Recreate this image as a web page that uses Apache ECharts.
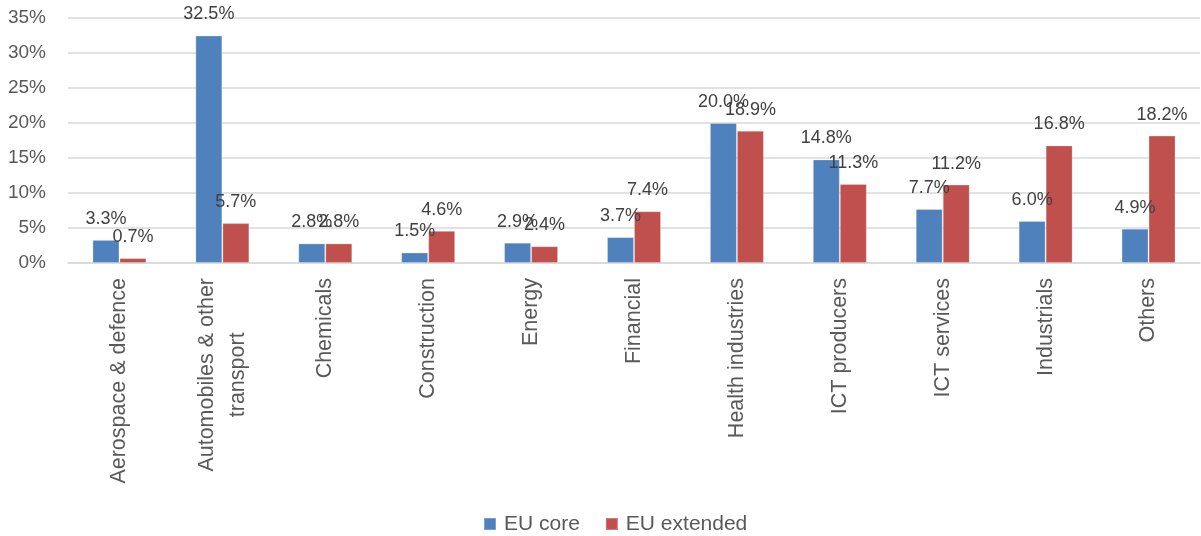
<!DOCTYPE html>
<html>
<head>
<meta charset="utf-8">
<script src="https://cdn.jsdelivr.net/npm/echarts@6/dist/echarts.min.js"></script>
<style>html,body{margin:0;padding:0;background:#fff;}#c{width:1201px;height:536px;}</style>
</head>
<body>
<div id="c"></div>
<script>
const categories = ['Aerospace & defence','Automobiles & other\ntransport','Chemicals','Construction','Energy','Financial','Health industries','ICT producers','ICT services','Industrials','Others'];
const euCore = [3.3, 32.5, 2.8, 1.5, 2.9, 3.7, 20.0, 14.8, 7.7, 6.0, 4.9];
const euExtended = [0.7, 5.7, 2.8, 4.6, 2.4, 7.4, 18.9, 11.3, 11.2, 16.8, 18.2];
const seriesNames = ['EU core', 'EU extended'];
const FONT = 'Liberation Sans, Arial, sans-serif';

const chart = echarts.init(document.getElementById('c'));
const labelCfg = {
  show: true, position: 'top', distance: 12,
  color: '#404040', fontSize: 18, fontFamily: FONT,
  formatter: p => p.value.toFixed(1) + '%'
};
chart.setOption({
  animation: false,
  textStyle: { fontFamily: FONT },
  grid: { left: 68, right: 1, top: 18, bottom: 273, containLabel: false },
  legend: {
    top: 513, left: 483, itemWidth: 12, itemHeight: 12, itemGap: 25, padding: 0,
    icon: 'rect',
    textStyle: { color: '#595959', fontSize: 21, lineHeight: 22, fontFamily: FONT, padding: [0, 0, 0, 3] },
    data: seriesNames
  },
  xAxis: {
    type: 'category', data: categories,
    axisLine: { show: true, lineStyle: { color: '#d9d9d9', width: 1.5 } },
    axisTick: { show: false },
    axisLabel: {
      rotate: 90, margin: 15, color: '#595959', fontSize: 21.5, fontFamily: FONT, interval: 0,
      formatter: v => v.split('\n').map(s => '{c|' + s + '}').join('\n'),
      rich: { c: { align: 'center', color: '#595959', fontSize: 21.5, fontFamily: FONT, lineHeight: 31 } }
    }
  },
  yAxis: {
    type: 'value', min: 0, max: 35, interval: 5,
    axisLine: { show: false }, axisTick: { show: false },
    splitLine: { lineStyle: { color: '#d9d9d9', width: 1.5 } },
    axisLabel: { margin: 22, color: '#595959', fontSize: 19, fontFamily: FONT, formatter: v => v + '%' }
  },
  series: [
    { name: seriesNames[0], type: 'bar', data: euCore, barWidth: 27, barGap: '0%',
      itemStyle: { color: '#4F81BD', borderColor: 'rgba(255,255,255,0.25)', borderWidth: 1 }, label: labelCfg },
    { name: seriesNames[1], type: 'bar', data: euExtended, barWidth: 27, barGap: '0%',
      itemStyle: { color: '#C0504D', borderColor: 'rgba(255,255,255,0.25)', borderWidth: 1 }, label: labelCfg }
  ]
});
</script>
</body>
</html>
